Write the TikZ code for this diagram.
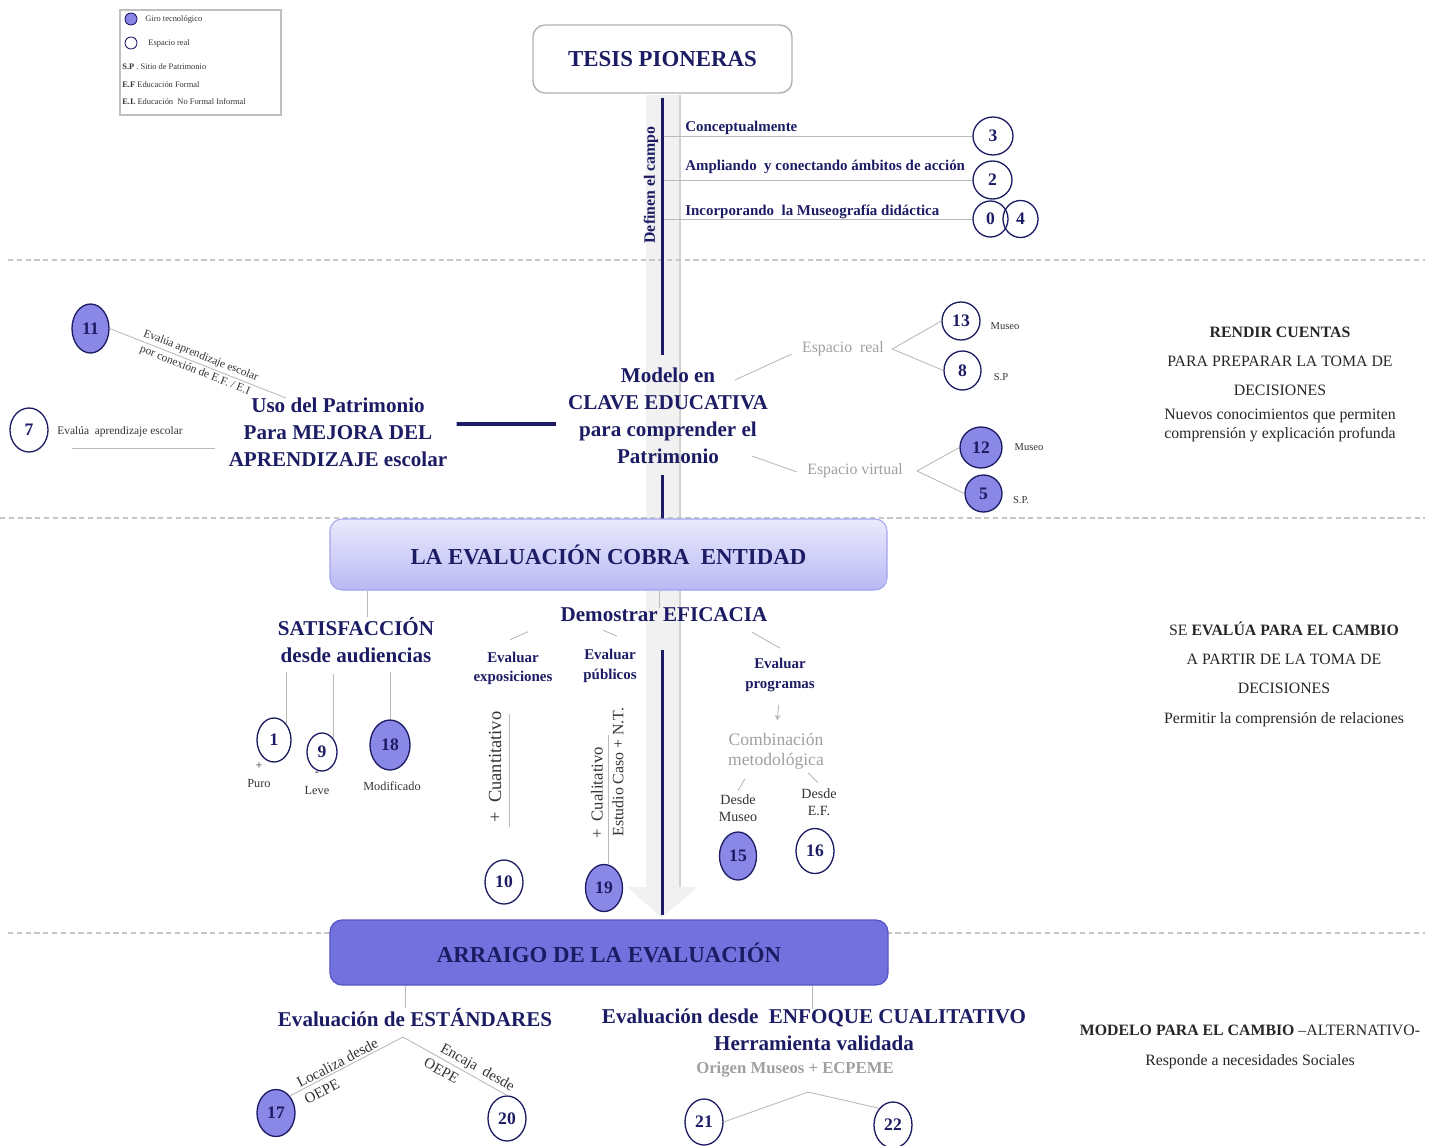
\documentclass[tikz,border=0pt]{standalone}
\usepackage{fontspec}
\setmainfont{Liberation Serif}
\usetikzlibrary{shapes.geometric}

\definecolor{navyink}{RGB}{28,28,100}
\definecolor{giro}{RGB}{138,136,230}
\definecolor{arraigo}{RGB}{115,113,222}
\definecolor{cobratop}{RGB}{234,234,253}
\definecolor{cobrabot}{RGB}{186,184,244}

\begin{document}
\begin{tikzpicture}[x=0.2cm,y=0.2cm]
\tikzstyle{every node}+=[inner sep=0pt]
\tikzstyle{num}=[ellipse, draw=navyink, line width=0.75pt, text=navyink, font=\fontsize{10}{12}\selectfont\bfseries, minimum width=0.76cm, minimum height=0.76cm]
\tikzstyle{giro}=[num, fill=giro]
\tikzstyle{gline}=[draw=gray!55, line width=0.5pt]
\tikzstyle{spine}=[draw=navyink, line width=1.7pt]
\tikzstyle{sep}=[draw=gray!45, line width=0.6pt, dash pattern=on 3pt off 2pt]
\tikzstyle{head}=[align=center, text=navyink, font=\fontsize{13}{16}\selectfont\bfseries]
\tikzstyle{mid}=[align=center, text=navyink, font=\fontsize{12}{15.4}\selectfont\bfseries]
\tikzstyle{lbl}=[align=center, text=navyink, font=\fontsize{8.5}{11}\selectfont\bfseries]
\tikzstyle{note}=[align=center, text=black!80, font=\fontsize{6.5}{8}\selectfont]
\tikzstyle{legtxt}=[anchor=west, text=black!80, font=\fontsize{4.8}{6}\selectfont]
\tikzstyle{side}=[align=center, text=black!85, font=\fontsize{9}{11}\selectfont]
\tikzstyle{greytxt}=[align=center, text=gray!75, font=\fontsize{9}{11}\selectfont]
\tikzstyle{plain}=[align=center, text=black!80, font=\fontsize{8}{9.7}\selectfont]
\useasboundingbox (0,0) rectangle (143.2,-114.6);

% central grey arrow
\fill [gray!11] (64.6,-9.5) -- (68.0,-9.5) -- (68.0,-88.7) -- (69.7,-88.7) -- (66.2,-91.8) -- (62.7,-88.7) -- (64.6,-88.7) -- cycle;
\draw [gray!35, line width=0.6pt] (68.0,-9.5) -- (68.0,-88.7);

% separators
\draw [sep] (0.8,-26.0) -- (142.5,-26.0);
\draw [sep] (0,-51.8) -- (142.5,-51.8);
\draw [sep] (0.8,-93.3) -- (142.5,-93.3);

% legend
\draw [gray!50, line width=0.7pt] (12.0,-1.0) rectangle (28.1,-11.5);
\node [giro, minimum width=0.24cm, minimum height=0.24cm, line width=0.5pt] (lg1) at (13.1,-1.9) {};
\node [legtxt] (lt1) at (14.5,-1.9) {Giro tecnológico};
\node [num, minimum width=0.24cm, minimum height=0.24cm, line width=0.5pt] (lg2) at (13.1,-4.3) {};
\node [legtxt] (lt2) at (14.8,-4.3) {Espacio real};
\node [legtxt] (lt3) at (12.2,-6.7) {\textbf{S.P} . Sitio de Patrimonio};
\node [legtxt] (lt4) at (12.2,-8.5) {\textbf{E.F} Educación Formal};
\node [legtxt] (lt5) at (12.2,-10.2) {\textbf{E.I.} Educación\ \ No Formal Informal};

% top block
\node [head, draw=gray!60, line width=0.8pt, fill=white, rounded corners=0.24cm, minimum width=5.18cm, minimum height=1.36cm] (tesis) at (66.25,-5.9) {TESIS PIONERAS};
\node [lbl, rotate=90, font=\fontsize{9}{11}\selectfont\bfseries] (def) at (65.1,-18.5) {Definen el campo};
\node [lbl, anchor=base west] (t1) at (68.5,-13.1) {Conceptualmente};
\node [lbl, anchor=base west] (t2) at (68.5,-17.0) {Ampliando\ \ y conectando ámbitos de acción};
\node [lbl, anchor=base west] (t3) at (68.5,-21.5) {Incorporando\ \ la Museografía didáctica};
\node [num, minimum width=0.8cm] (n3) at (99.3,-13.6) {3};
\node [num, minimum width=0.78cm] (n2) at (99.25,-18.0) {2};
\node [num, minimum width=0.7cm, minimum height=0.72cm] (n0) at (99.05,-21.9) {0};
\node [num, minimum width=0.7cm, minimum height=0.74cm] (n4) at (102.05,-21.9) {4};
\draw [gline] (tesis.south |- n3.west) -- (n3.west);
\draw [gline] (tesis.south |- n2.west) -- (n2.west);
\draw [gline] (tesis.south |- n0.west) -- (n0.west);

% second block
\node [mid] (modelo) at (66.8,-41.6) {Modelo en\\CLAVE EDUCATIVA\\para comprender el\\Patrimonio};
\node [mid] (uso) at (33.8,-43.2) {Uso del Patrimonio\\Para MEJORA DEL\\APRENDIZAJE escolar};
\draw [spine, shorten >=0.26cm] ([yshift=-0.08cm]tesis.south) -- (tesis.south |- modelo.north);
\draw [spine, shorten <=0.22cm] (tesis.south |- modelo.south) -- (tesis.south |- 0,-52.2);
\draw [navyink, line width=2.2pt] ([xshift=0.18cm,yshift=0.16cm]uso.east) -- ([xshift=-0.24cm,yshift=-0.16cm]modelo.west);

\node [giro, minimum width=0.74cm, minimum height=0.98cm] (n11) at (9.05,-32.85) {11};
\coordinate (k11) at (28.6,-39.8);
\draw [gline] (n11.east) -- (k11) node [note, midway, sloped] {Evalúa aprendizaje escolar\\[1pt]por conexión de E.F. / E.I};
\node [num, minimum height=0.88cm] (n7) at (2.9,-43.0) {7};
\node [note, anchor=west] (e7) at (5.7,-43.2) {Evalúa\ \ aprendizaje escolar};
\coordinate (k7) at (21.5,-44.8);
\draw [gline] ([xshift=0.3cm]e7.west |- k7) -- (k7);

\node [greytxt] (er) at (84.3,-34.9) {Espacio\ \ real};
\node [greytxt] (ev) at (85.5,-47.1) {Espacio virtual};
\coordinate (m1) at (73.5,-38.0);
\coordinate (m2) at (75.2,-45.6);
\draw [gline] (m1) -- ([xshift=-0.2cm,yshift=-0.1cm]er.west);
\draw [gline] (m2) -- ([xshift=-0.2cm,yshift=-0.02cm]ev.west);
\node [num] (n13) at (96.1,-32.1) {13};
\node [num, minimum width=0.74cm, minimum height=0.78cm] (n8) at (96.25,-37.05) {8};
\node [giro, minimum width=0.84cm, minimum height=0.82cm] (n12) at (98.1,-44.75) {12};
\node [giro, minimum width=0.74cm, minimum height=0.74cm] (n5) at (98.35,-49.35) {5};
\draw [gline] (n13.west) -- ([xshift=0.16cm]er.east) -- (n8.west);
\draw [gline] (n12.west) -- ([xshift=0.28cm]ev.east) -- (n5.west);
\node [note, font=\fontsize{6}{7}\selectfont] (l13) at (100.5,-32.6) {Museo};
\node [note, font=\fontsize{6}{7}\selectfont] (l8) at (100.1,-37.7) {S.P};
\node [note, font=\fontsize{6}{7}\selectfont] (l12) at (102.9,-44.7) {Museo};
\node [note, font=\fontsize{6}{7}\selectfont] (l5) at (102.1,-50.0) {S.P.};

% right column
\node [side] (rc) at (128.0,-38.45) {\textbf{RENDIR CUENTAS}\\[5.5pt]PARA PREPARAR LA TOMA DE\\[5.5pt]DECISIONES\\[3pt]Nuevos conocimientos que permiten\\comprensión y explicación profunda};
\node [side] (se) at (128.4,-67.4) {SE \textbf{EVALÚA PARA EL CAMBIO}\\[5.7pt]A PARTIR DE LA TOMA DE\\[5.7pt]DECISIONES\\[5.7pt]Permitir la comprensión de relaciones};
\node [side] (mc) at (125.0,-104.7) {\textbf{MODELO PARA EL CAMBIO} –ALTERNATIVO-\\[6pt]Responde a necesidades Sociales};

% third block
\node [head, draw={rgb,255:red,165;green,165;blue,235}, line width=0.6pt, top color=cobratop, bottom color=cobrabot, rounded corners=0.24cm, minimum width=11.14cm, minimum height=1.42cm] (evalbox) at (60.85,-55.45) {LA EVALUACIÓN COBRA\ \ ENTIDAD};
\node [mid] (sat) at (35.6,-64.05) {SATISFACCIÓN\\desde audiencias};
\draw [gline] ([xshift=0.22cm]sat.north |- evalbox.south) -- ([xshift=0.22cm]sat.north);
\node [num, minimum width=0.68cm, minimum height=0.88cm] (n1) at (27.4,-74.0) {1};
\node [num, minimum width=0.6cm] (n9) at (32.2,-75.2) {9};
\node [giro, minimum width=0.8cm, minimum height=1.0cm] (n18) at (39.0,-74.5) {18};
\draw [gline, shorten >=0.16cm] (n1.north east) -- (n1.north east |- sat.south);
\draw [gline, shorten >=0.2cm] (n9.north east) -- (n9.north east |- sat.south);
\draw [gline, shorten >=0.16cm] (n18.north) -- (n18.north |- sat.south);
\node [note, font=\fontsize{7}{8}\selectfont] (p1) at (25.9,-76.6) {+};
\node [note, font=\fontsize{7}{8}\selectfont] (pu1) at (25.9,-78.4) {Puro};
\node [note, font=\fontsize{7}{8}\selectfont] (p9) at (31.7,-77.4) {-};
\node [note, font=\fontsize{7}{8}\selectfont] (lv9) at (31.7,-79.1) {Leve};
\node [note, font=\fontsize{7}{8}\selectfont] (md18) at (39.2,-78.6) {Modificado};

\node [mid] (dem) at (66.4,-61.5) {Demostrar EFICACIA};
\draw [gline] ([xshift=-0.1cm]dem.north |- evalbox.south) -- ([xshift=-0.1cm]dem.north);
\draw [spine, shorten <=0.56cm] (tesis.south |- dem.south) -- (tesis.south |- 0,-91.5);
\node [lbl] (ex) at (51.3,-66.85) {Evaluar\\exposiciones};
\node [lbl] (pu) at (61.0,-66.6) {Evaluar\\públicos};
\node [lbl] (pr) at (78.0,-67.5) {Evaluar\\programas};
\draw [gline] ([xshift=-0.06cm,yshift=0.24cm]ex.north) -- ([xshift=0.3cm,yshift=0.4cm]ex.north);
\draw [gline] ([xshift=0.14cm,yshift=0.26cm]pu.north) -- ([xshift=-0.14cm,yshift=0.38cm]pu.north);
\draw [gline] ([yshift=0.2cm]pr.north) -- ([xshift=-0.56cm,yshift=0.52cm]pr.north);

\node [greytxt, font=\fontsize{10}{11.5}\selectfont] (co) at (77.6,-75.1) {Combinación\\metodológica};
\draw [gline, ->, >=stealth, shorten <=0.26cm, shorten >=0.24cm] (pr.south) -- (co.north);
\node [plain] (dm) at (73.8,-80.85) {Desde\\Museo};
\node [plain] (de) at (81.9,-80.25) {Desde\\E.F.};
\draw [gline] ([yshift=0.08cm]dm.north) -- ([xshift=0.14cm,yshift=0.32cm]dm.north);
\draw [gline] ([xshift=-0.02cm,yshift=0.12cm]de.north) -- ([xshift=-0.22cm,yshift=0.32cm]de.north);
\node [giro, minimum width=0.74cm, minimum height=0.96cm] (n15) at (73.8,-85.6) {15};
\node [num, minimum height=0.9cm] (n16) at (81.5,-85.1) {16};

\node [plain, rotate=90, font=\fontsize{10.5}{12}\selectfont] (cu) at (49.5,-76.7) {+\ \ Cuantitativo};
\node [num, minimum height=0.88cm] (n10) at (50.4,-88.2) {10};
\draw [gline, shorten <=0.64cm, shorten >=0.58cm] ([xshift=0.1cm]n10.north) -- ([xshift=0.1cm]n10.north |- ex.south);
\node [plain, rotate=90, font=\fontsize{9.5}{11}\selectfont] (cl) at (59.7,-79.3) {+\ \ Cualitativo};
\node [plain, rotate=90, font=\fontsize{9}{11}\selectfont] (es) at (61.8,-77.2) {Estudio Caso + N.T.};
\node [giro, minimum width=0.74cm, minimum height=0.94cm] (n19) at (60.4,-88.8) {19};
\draw [gline, shorten >=1.04cm] ([xshift=0.08cm]n19.north) -- ([xshift=0.08cm]n19.north |- pu.south);

% fourth block
\node [head, draw={rgb,255:red,85;green,85;blue,200}, line width=0.7pt, fill=arraigo, rounded corners=0.24cm, minimum width=11.16cm, minimum height=1.3cm] (ar) at (60.9,-95.25) {ARRAIGO DE LA EVALUACIÓN};
\node [mid] (st) at (41.5,-101.8) {Evaluación de ESTÁNDARES};
\draw [gline] ([xshift=-0.2cm]st.north |- ar.south) -- ([xshift=-0.2cm]st.north);
\coordinate (ap1) at (40.3,-103.7);
\node [giro, minimum height=0.94cm] (n17) at (27.6,-111.3) {17};
\node [num, minimum height=0.9cm] (n20) at (50.7,-111.85) {20};
\draw [gline] (n17.north east) -- (ap1)
  node [plain, font=\fontsize{8.5}{10}\selectfont, pos=0.45, sloped, above=1pt] (lz) {Localiza desde}
  node [plain, font=\fontsize{8.5}{10}\selectfont, pos=0.24, sloped, below=3pt] (o17) {OEPE};
\draw [gline] (ap1) -- (n20.north)
  node [plain, font=\fontsize{8.5}{10}\selectfont, pos=0.67, sloped, above=1pt] (ej) {Encaja\ \ desde}
  node [plain, font=\fontsize{8.5}{10}\selectfont, pos=0.42, sloped, below=3pt] (o20) {OEPE};

\node [mid] (en) at (81.4,-103.0) {Evaluación desde\ \ ENFOQUE CUALITATIVO\\Herramienta validada};
\draw [gline] ([xshift=-0.04cm]en.north |- ar.south) -- ([xshift=-0.04cm]en.north);
\node [greytxt, font=\fontsize{9.5}{11}\selectfont\bfseries] (og) at (79.5,-107.0) {Origen Museos + ECPEME};
\coordinate (ap2) at (80.8,-109.2);
\node [num, minimum height=0.92cm] (n21) at (70.4,-112.2) {21};
\node [num, minimum height=0.92cm] (n22) at (89.3,-112.5) {22};
\draw [gline] (n21.east) -- (ap2) -- (n22.north west);
\end{tikzpicture}
\end{document}
